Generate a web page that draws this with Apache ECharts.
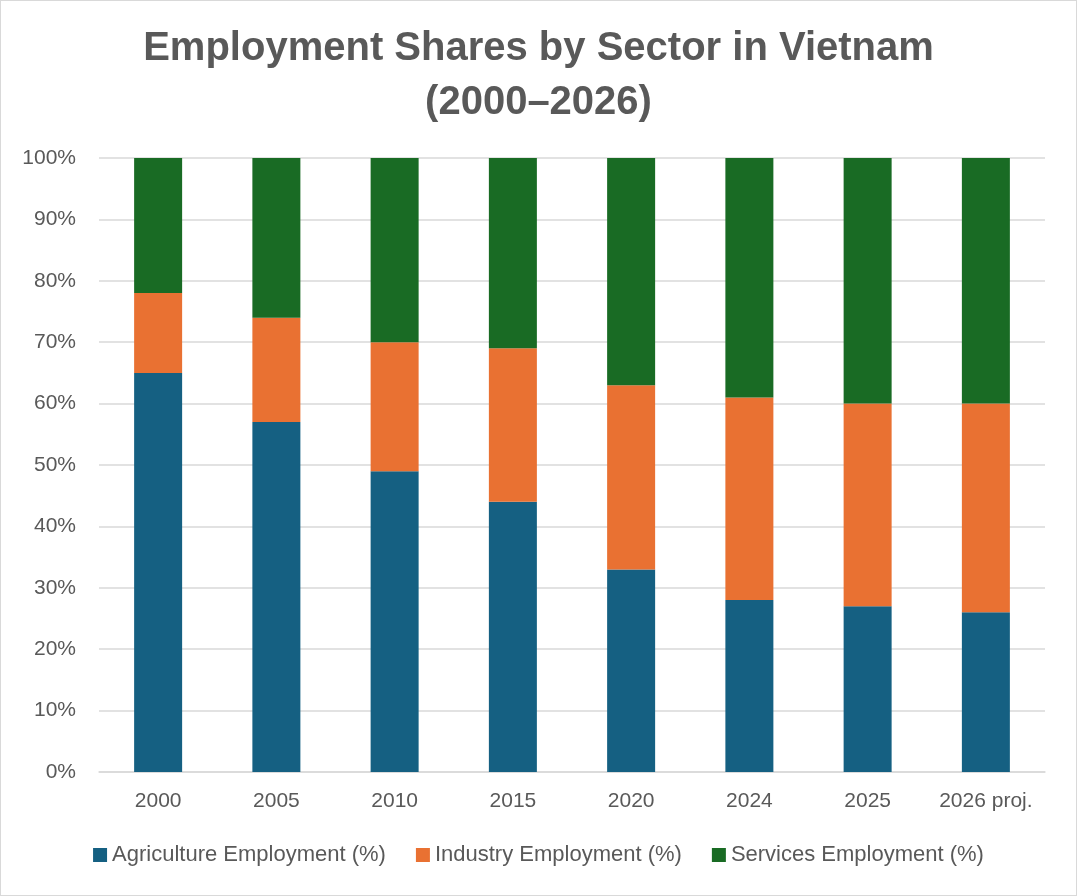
<!DOCTYPE html>
<html>
<head>
<meta charset="utf-8">
<title>Employment Shares by Sector in Vietnam</title>
<script src="https://cdn.jsdelivr.net/npm/echarts@6/dist/echarts.min.js"></script>
<style>
	html,body{margin:0;padding:0;background:#fff;}
	#chart{width:1075px;height:894px;border:1px solid #d9d9d9;}
</style>
</head>
<body>
<div id="chart"></div>
<script>
// 数据
var years=['2000','2005','2010','2015','2020','2024','2025','2026 proj.'];
var agriculture=[65,57,49,44,33,28,27,26];
var industry=[13,17,21,25,30,33,33,34];
var services=[22,26,30,31,37,39,40,40];
var seriesNames=['Agriculture Employment (%)','Industry Employment (%)','Services Employment (%)'];
var yTicks=[0,10,20,30,40,50,60,70,80,90,100];

var chart=echarts.init(document.getElementById('chart'));
var textColor='#595959';
var font='"Liberation Sans", Arial, sans-serif';

function makeSeries(name,data,color){
	return {
		name:name,
		type:'bar',
		stack:'total',
		barWidth:48,
		data:data,
		itemStyle:{color:color}
	};
}

var option={
	animation:false,
	title:{
		text:'Employment Shares by Sector in Vietnam\n(2000–2026)',
		left:'center',
		top:16,
		textStyle:{
			color:textColor,
			fontSize:40,
			fontWeight:'bold',
			fontFamily:font,
			lineHeight:54
		}
	},
	legend:{
		bottom:24,
		left:'center',
		itemWidth:14,
		itemHeight:14,
		itemGap:30,
		icon:'rect',
		data:seriesNames,
		textStyle:{color:textColor,fontSize:22,fontFamily:font}
	},
	grid:{left:98,right:31,top:157,bottom:123},
	xAxis:{
		type:'category',
		data:years,
		axisLine:{lineStyle:{color:'#d9d9d9',width:1.5}},
		axisTick:{show:false},
		axisLabel:{color:textColor,fontSize:21,fontFamily:font,margin:19,interval:0}
	},
	yAxis:{
		type:'value',
		min:yTicks[0],
		max:yTicks[yTicks.length-1],
		interval:10,
		axisLine:{show:false},
		axisTick:{show:false},
		splitLine:{lineStyle:{color:'#d9d9d9',width:1.5}},
		axisLabel:{color:textColor,fontSize:21,fontFamily:font,margin:23,formatter:'{value}%'}
	},
	series:[
		makeSeries(seriesNames[0],agriculture,'#156082'),
		makeSeries(seriesNames[1],industry,'#E97132'),
		makeSeries(seriesNames[2],services,'#196B24')
	]
};
chart.setOption(option);
</script>
</body>
</html>
